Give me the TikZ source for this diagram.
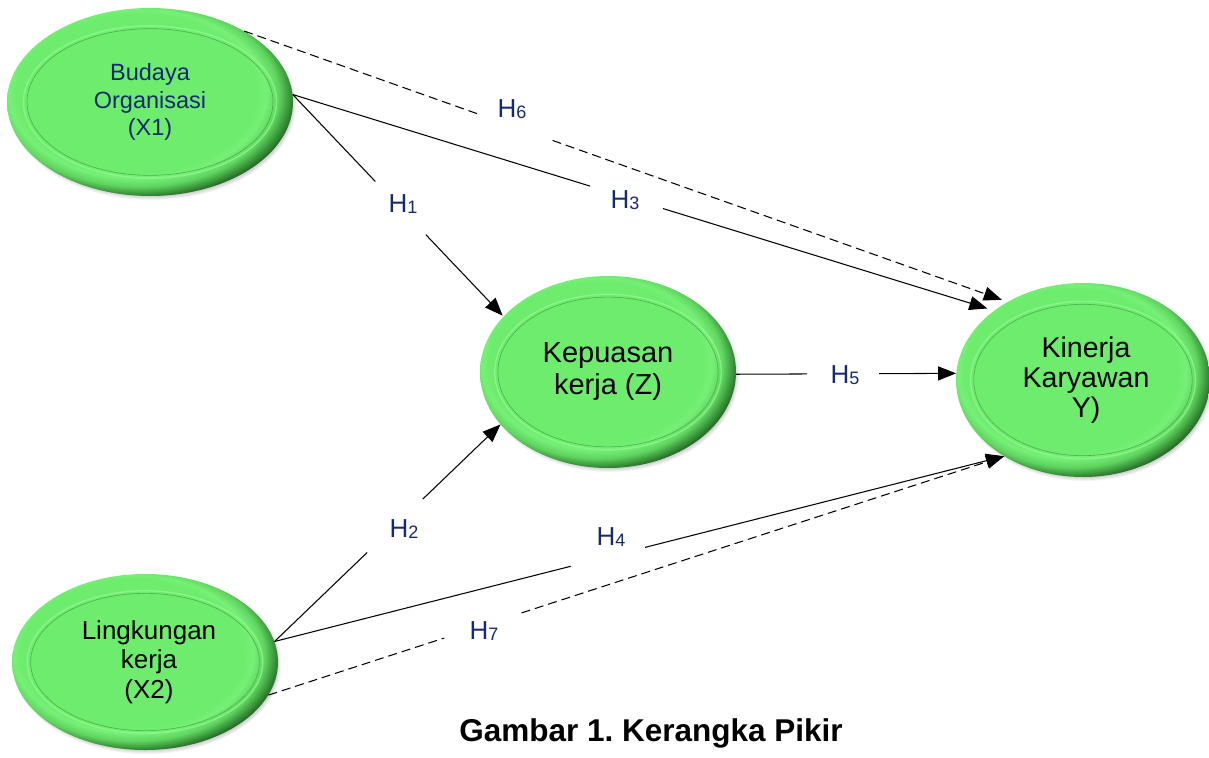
\documentclass[tikz,border=0pt]{standalone}
\usepackage{fontspec}
\setmainfont{Liberation Sans}
\frenchspacing
\usetikzlibrary{calc,arrows.meta,shapes.geometric}
\definecolor{lg}{RGB}{110,236,110}
\definecolor{lg2}{RGB}{118,240,118}
\definecolor{mg}{RGB}{96,212,96}
\definecolor{dg}{RGB}{62,158,62}
\definecolor{edge}{RGB}{36,100,36}
\definecolor{ringc}{RGB}{76,176,76}
\definecolor{hl}{RGB}{150,246,150}
\definecolor{navy}{RGB}{22,42,112}
\pgfdeclareradialshading{rimshade}{\pgfpoint{-4bp}{4bp}}{color(0bp)=(lg); color(21bp)=(lg); color(22.5bp)=(lg2); color(24.5bp)=(mg); color(26bp)=(dg); color(27.5bp)=(edge); color(50bp)=(edge)}
\newcommand\blob[4]{%
  \foreach \k in {1,...,4}{\fill[black,opacity=0.045] (#1+2,#2+3) ellipse [x radius=#3+\k-3, y radius=#4+\k-3];}
  \shade[shading=rimshade] (#1,#2) ellipse [x radius=#3, y radius=#4];
  \draw[hl, line width=1.4pt, opacity=.7] (#1,#2) ellipse [x radius=0.885*#3, y radius=0.81*#4];
  \draw[ringc, line width=0.6pt] (#1,#2) ellipse [x radius=0.86*#3, y radius=0.78*#4];
}
\newcommand\hsub[1]{H\raisebox{-1.5pt}{\fontsize{18}{18}\selectfont #1}}
\tikzset{
  vnode/.style={ellipse, inner sep=0pt, align=center, draw=none},
  conn/.style={line width=1.05pt, black},
  tip/.style={-{Triangle[length=18pt,width=14pt]}},
  dsh/.style={dash pattern=on 9pt off 5pt},
  hlab/.style={text=navy, font=\fontsize{26}{26}\selectfont, inner sep=0pt},
}
\begin{document}
\begin{tikzpicture}[x=1pt,y=-1pt]
\useasboundingbox[fill=white] (0,0) rectangle (1209,757);
% ellipses
\blob{150}{102}{143}{94}
\blob{608}{372}{128}{96}
\blob{1083}{380}{127}{97}
\blob{145}{662}{133}{88}
\node[vnode, minimum width=286pt, minimum height=188pt, text=navy, font=\fontsize{23.5}{27.5}\selectfont] (x1) at (150,102) {Budaya\\Organisasi\\(X1)};
\node[vnode, minimum width=256pt, minimum height=192pt, font=\fontsize{29}{32}\selectfont] (z) at (608,372) {Kepuasan\\kerja (Z)};
\node[vnode, minimum width=254pt, minimum height=194pt, font=\fontsize{28.5}{30}\selectfont] (y) at (1083,380) {\hspace*{6pt}Kinerja\\\hspace*{6pt}Karyawan\\\hspace*{6pt}Y)};
\node[vnode, minimum width=266pt, minimum height=176pt, font=\fontsize{26}{29.5}\selectfont] (x2) at (145,662) {\hspace*{8pt}Lingkungan\\\hspace*{8pt}kerja\\\hspace*{8pt}(X2)};
% labels
\node[hlab] (h6) at (512,109) {\hsub{6}};
\node[hlab] (h3) at (625,200) {\hsub{3}};
\node[hlab] (h1) at (403,204) {\hsub{1}};
\node[hlab] (h5) at (845,375) {\hsub{5}};
\node[hlab] (h2) at (404,529) {\hsub{2}};
\node[hlab] (h4) at (611,537) {\hsub{4}};
\node[hlab] (h7) at (484,631) {\hsub{7}};
% connectors
% H6
\draw[conn,dsh] (x1.37) -- ($(x1.37)!0.305!(y.134.3)$);
\draw[conn,dsh,tip,shorten >=6pt] ($(x1.37)!0.404!(y.134.3)$) -- (y.134.3);
% H3
\draw[conn] (x1.3.6) -- ($(x1.3.6)!0.424!(y.142.5)$);
\draw[conn,tip,shorten >=7pt] ($(x1.3.6)!0.528!(y.142.5)$) -- (y.142.5);
% H1
\draw[conn] (x1.3.6) -- ($(x1.3.6)!0.392!(z.152.6)$);
\draw[conn,tip,shorten >=1pt] ($(x1.3.6)!0.632!(z.152.6)$) -- (z.152.6);
% H5
\draw[conn] (z.-1.3) -- ($(z.-1.3)!0.323!(y.177.7)$);
\draw[conn,tip] ($(z.-1.3)!0.65!(y.177.7)$) -- (y.177.7);
% H2
\draw[conn] (x2.9.4) -- ($(x2.9.4)!0.41!(z.-154.3)$);
\draw[conn,tip] ($(x2.9.4)!0.656!(z.-154.3)$) -- (z.-154.3);
% H4
\draw[conn] (x2.9.4) -- ($(x2.9.4)!0.406!(y.-136.9)$);
\draw[conn,tip] ($(x2.9.4)!0.508!(y.-136.9)$) -- (y.-136.9);
% H7
\draw[conn,dsh] (x2.-15.3) -- ($(x2.-15.3)!0.239!(y.-136.9)$);
\draw[conn,dsh,tip] ($(x2.-15.3)!0.344!(y.-136.9)$) -- (y.-136.9);
% caption
\node[font=\bfseries\fontsize{31.5}{32}\selectfont, anchor=base, inner sep=0pt] (cap) at (651,741) {Gambar 1. Kerangka Pikir};
\end{tikzpicture}
\end{document}
